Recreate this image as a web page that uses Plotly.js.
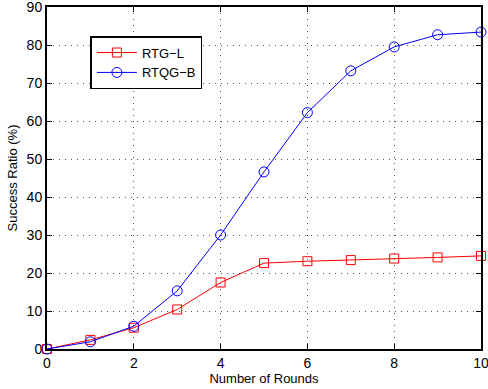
<!DOCTYPE html>
<html><head><meta charset="utf-8">
<script src="https://cdn.plot.ly/plotly-3.0.1.min.js"></script>
<style>html,body{margin:0;padding:0;background:#fff;}#chart{width:488px;height:389px;}</style>
</head><body><div id="chart"></div>
<script>
const rounds = [0,1,2,3,4,5,6,7,8,9,10];
const rtgL = [0,2.4,5.6,10.4,17.5,22.6,23.1,23.4,23.8,24.1,24.5];
const rtqgB = [0,1.9,6.0,15.3,30.0,46.6,62.2,73.2,79.5,82.7,83.4];
const xTicks = [0,2,4,6,8,10];
const yTicks = [0,10,20,30,40,50,60,70,80,90];

const traces = [
  {x: rounds, y: rtgL, name: 'RTG\u2212L', mode: 'lines+markers', cliponaxis: false,
   line: {color: '#ff0000', width: 1}, marker: {symbol: 'square-open', size: 9, color: '#ff0000', line: {width: 1}}},
  {x: rounds, y: rtqgB, name: 'RTQG\u2212B', mode: 'lines+markers', cliponaxis: false,
   line: {color: '#0000ff', width: 1}, marker: {symbol: 'circle-open', size: 10, color: '#0000ff', line: {width: 1}}}
];
const axisCommon = {
  showline: true, linecolor: '#000', linewidth: 2, mirror: 'ticks',
  ticks: 'inside', ticklen: 5, tickcolor: '#000', tickwidth: 1,
  showgrid: true, gridcolor: '#555', griddash: '1px,5px', gridwidth: 1,
  zeroline: false, ticklabeloverflow: 'allow',
  tickfont: {family: 'Liberation Sans, Arial, sans-serif', size: 14, color: '#000'}
};
const layout = {
  width: 488, height: 389,
  margin: {l: 47, r: 7, t: 7, b: 40},
  paper_bgcolor: '#fff', plot_bgcolor: '#fff',
  font: {family: 'Liberation Sans, Arial, sans-serif', color: '#000'},
  showlegend: true,
  legend: {x: 0.1, y: 0.915, xanchor: 'left', yanchor: 'top', bordercolor: '#000', borderwidth: 1.5,
           bgcolor: '#fff', font: {size: 13}, tracegroupgap: 0, itemwidth: 40},
  xaxis: Object.assign({}, axisCommon, {range: [0, 10.0001], tickvals: xTicks, ticktext: xTicks.map(String),
    title: {text: 'Number of Rounds', font: {size: 13}, standoff: 0}}),
  yaxis: Object.assign({}, axisCommon, {range: [0, 90.0001], tickvals: yTicks, ticktext: yTicks.map(String),
    title: {text: 'Success Ratio (%)', font: {size: 13}, standoff: 6}})
};
Plotly.newPlot('chart', traces, layout, {displayModeBar: false, staticPlot: true});
</script></body></html>
